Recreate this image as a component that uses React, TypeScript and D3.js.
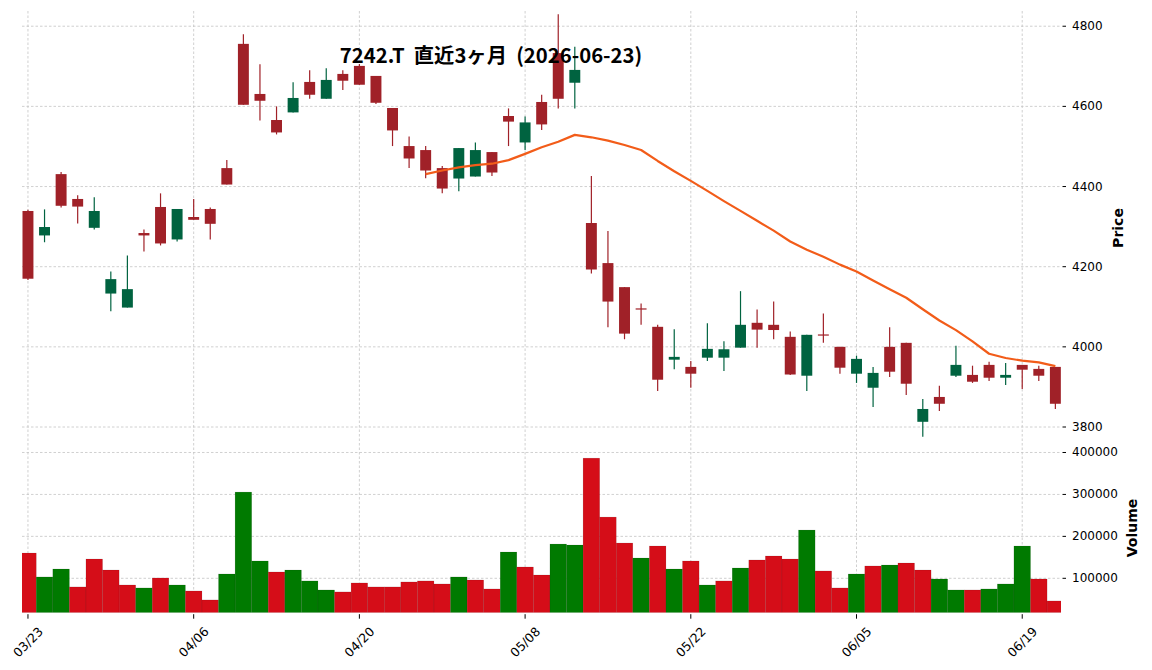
import React from 'react';
import * as d3 from 'd3';

const dates = [
  '2026-03-23', '2026-03-24', '2026-03-25', '2026-03-26', '2026-03-27', '2026-03-30', '2026-03-31',
  '2026-04-01', '2026-04-02', '2026-04-03', '2026-04-06', '2026-04-07', '2026-04-08', '2026-04-09',
  '2026-04-10', '2026-04-13', '2026-04-14', '2026-04-15', '2026-04-16', '2026-04-17', '2026-04-20',
  '2026-04-21', '2026-04-22', '2026-04-23', '2026-04-24', '2026-04-27', '2026-04-28', '2026-04-30',
  '2026-05-01', '2026-05-07', '2026-05-08', '2026-05-11', '2026-05-12', '2026-05-13', '2026-05-14',
  '2026-05-15', '2026-05-18', '2026-05-19', '2026-05-20', '2026-05-21', '2026-05-22', '2026-05-25',
  '2026-05-26', '2026-05-27', '2026-05-28', '2026-05-29', '2026-06-01', '2026-06-02', '2026-06-03',
  '2026-06-04', '2026-06-05', '2026-06-08', '2026-06-09', '2026-06-10', '2026-06-11', '2026-06-12',
  '2026-06-15', '2026-06-16', '2026-06-17', '2026-06-18', '2026-06-19', '2026-06-22', '2026-06-23',
];

const opens = [
  4339, 4278, 4431, 4369, 4297, 4133, 4098, 4284, 4349, 4268,
  4324, 4344, 4446, 4756, 4631, 4566, 4585, 4661, 4619, 4681,
  4701, 4676, 4596, 4501, 4491, 4446, 4420, 4425, 4486, 4576,
  4510, 4611, 4733, 4659, 4309, 4209, 4149, 4096, 4050, 3968,
  3950, 3973, 3973, 3998, 4060, 4055, 4025, 3928, 4031, 4000,
  3933, 3898, 4000, 4010, 3813, 3875, 3928, 3930, 3955, 3923,
  3955, 3945, 3950,
];
const highs = [
  4342, 4343, 4436, 4378, 4373, 4188, 4228, 4293, 4383, 4344,
  4369, 4348, 4466, 4780, 4705, 4600, 4660, 4690, 4695, 4690,
  4706, 4676, 4596, 4525, 4501, 4451, 4496, 4510, 4486, 4595,
  4575, 4629, 4830, 4749, 4426, 4289, 4149, 4108, 4055, 4044,
  3965, 4059, 4014, 4139, 4093, 4113, 4038, 4030, 4083, 4000,
  3978, 3950, 4049, 4010, 3870, 3903, 4003, 3953, 3963, 3960,
  3955, 3953, 3950,
];
const lows = [
  4167, 4261, 4348, 4308, 4293, 4089, 4098, 4238, 4253, 4263,
  4317, 4268, 4405, 4604, 4565, 4530, 4585, 4619, 4619, 4641,
  4654, 4606, 4501, 4446, 4421, 4383, 4388, 4425, 4426, 4501,
  4491, 4541, 4595, 4595, 4183, 4049, 4019, 4055, 3890, 3944,
  3898, 3965, 3940, 3998, 3998, 4019, 3930, 3890, 4010, 3933,
  3910, 3850, 3925, 3880, 3776, 3840, 3925, 3910, 3915, 3905,
  3895, 3915, 3845,
];
const closes = [
  4170, 4299, 4352, 4350, 4339, 4169, 4144, 4278, 4258, 4344,
  4317, 4307, 4405, 4604, 4614, 4535, 4621, 4629, 4666, 4664,
  4654, 4609, 4540, 4470, 4440, 4395, 4496, 4491, 4435, 4562,
  4560, 4555, 4619, 4691, 4193, 4113, 4033, 4093, 3918, 3975,
  3933, 3995, 3994, 4055, 4043, 4042, 3931, 4030, 4029, 3948,
  3970, 3935, 3938, 3908, 3845, 3858, 3955, 3913, 3923, 3930,
  3943, 3928, 3858,
];
const volumes = [
  160300, 103200, 122200, 79400, 146000, 119800, 84100, 77000, 100800, 84100,
  69800, 48400, 110300, 305600, 141300, 115100, 119800, 93700, 72200, 67500,
  88900, 79400, 79400, 91300, 93700, 86500, 103200, 96000, 74600, 162700,
  127000, 107900, 181700, 179400, 386500, 246000, 184100, 148400, 177000, 122200,
  141300, 84100, 93700, 124600, 143700, 153200, 146000, 215100, 117500, 77000,
  110300, 129400, 131700, 136500, 119800, 98400, 72200, 72200, 74600, 86500,
  177000, 98400, 46000,
];

const priceTicks = [3800, 4000, 4200, 4400, 4600, 4800];
const volumeTicks = [100000, 200000, 300000, 400000];
const dateTickStep = 10;
const maPeriod = 25;
const titleText = '7242.T  直近3ヶ月  (2026-06-23)';

const UP = '#006340';
const DOWN = '#A02128';
const VUP = '#007a00';
const VDOWN = '#d50d18';
const MA_COLOR = '#f25c19';
const GRID = '#c4c4c4';

export default function App() {
  const W = 1152;
  const H = 670;
  const L = 22;
  const R = 1061;
  const PT = 11;
  const PB = 442;
  const VT = 442;
  const VB = 612.7;

  const n = dates.length;
  const x = d3.scaleLinear().domain([-0.36, n - 1 + 0.34]).range([L, R]);
  const y = d3.scaleLinear().domain([3762.6, 4838]).range([PB, PT]);
  const yv = d3.scaleLinear().domain([18000, 425000]).range([VB, VT]);
  const unit = x(1) - x(0);
  const bodyW = unit * 0.66;

  const idx = d3.range(n);
  const ma = idx.map((i) =>
    i < maPeriod - 1 ? null : (d3.mean(closes.slice(i - maPeriod + 1, i + 1)) as number)
  );
  const maLine = d3
    .line<number>()
    .defined((i) => ma[i] != null)
    .x((i) => x(i))
    .y((i) => y(ma[i] as number));

  const dateTicks = idx.filter((i) => i % dateTickStep === 0);
  const parse = d3.timeParse('%Y-%m-%d');
  const fmt = d3.timeFormat('%m/%d');

  const tickFont = 'DejaVu Sans';

  return (
    <svg
      width={W}
      height={H}
      style={{ position: 'absolute', left: 0, top: 0, background: '#fff' }}
    >
      <defs>
        <clipPath id="pclip">
          <rect x={L} y={PT} width={R - L} height={PB - PT} />
        </clipPath>
        <clipPath id="vclip">
          <rect x={L} y={VT} width={R - L} height={VB - VT} />
        </clipPath>
      </defs>
      <rect x={0} y={0} width={W} height={H} fill="#fff" />

      <g stroke={GRID} strokeWidth={0.8} strokeDasharray="2.5,2">
        {dateTicks.map((i) => (
          <line key={'vg' + i} x1={x(i)} x2={x(i)} y1={PT} y2={VB} />
        ))}
        {priceTicks.map((t) => (
          <line key={'pg' + t} x1={L} x2={R} y1={y(t)} y2={y(t)} />
        ))}
        {volumeTicks.map((t) => (
          <line key={'vvg' + t} x1={L} x2={R} y1={yv(t)} y2={yv(t)} />
        ))}
      </g>

      <g clipPath="url(#vclip)">
        {idx.map((i) => {
          const up = i === 0 ? closes[0] > opens[0] : closes[i] > closes[i - 1];
          const c = up ? VUP : VDOWN;
          return (
            <rect
              key={'v' + i}
              x={x(i) - unit / 2}
              y={yv(volumes[i])}
              width={unit}
              height={VB - yv(volumes[i])}
              fill={c}
              stroke="rgba(0,0,0,0.18)"
              strokeWidth={0.5}
            />
          );
        })}
      </g>

      <g clipPath="url(#pclip)">
        {idx.map((i) => {
          const up = closes[i] > opens[i];
          const c = up ? UP : DOWN;
          const top = y(Math.max(opens[i], closes[i]));
          const bot = y(Math.min(opens[i], closes[i]));
          return (
            <g key={'c' + i}>
              <line x1={x(i)} x2={x(i)} y1={y(highs[i])} y2={y(lows[i])} stroke={c} strokeWidth={1.2} />
              <rect
                x={x(i) - bodyW / 2}
                y={top}
                width={bodyW}
                height={Math.max(bot - top, 1.2)}
                fill={c}
              />
            </g>
          );
        })}
        <path d={maLine(idx) || ''} fill="none" stroke={MA_COLOR} strokeWidth={2.2} strokeLinejoin="round" />
      </g>

      <g fontFamily={tickFont} fontSize={12} fill="#000">
        {priceTicks.map((t) => (
          <g key={'pt' + t}>
            <line x1={R + 1.5} x2={R + 5} y1={y(t)} y2={y(t)} stroke="#000" strokeWidth={1} />
            <text x={R + 11} y={y(t)} dominantBaseline="central">
              {t}
            </text>
          </g>
        ))}
        {volumeTicks.map((t) => (
          <g key={'vt' + t}>
            <line x1={R + 1.5} x2={R + 5} y1={yv(t)} y2={yv(t)} stroke="#000" strokeWidth={1} />
            <text x={R + 11} y={yv(t)} dominantBaseline="central">
              {t}
            </text>
          </g>
        ))}
        {dateTicks.map((i) => (
          <g key={'dt' + i}>
            <line x1={x(i)} x2={x(i)} y1={VB + 1.5} y2={VB + 6} stroke="#000" strokeWidth={1} />
            <text
              transform={`translate(${x(i)},${642}) rotate(-45)`}
              textAnchor="middle"
              dominantBaseline="central"
              fontSize={12.5}
            >
              {fmt(parse(dates[i]) as Date)}
            </text>
          </g>
        ))}
      </g>

      <text
        transform={`translate(1118,228) rotate(-90)`}
        textAnchor="middle"
        dominantBaseline="central"
        fontFamily={tickFont}
        fontWeight="bold"
        fontSize={14}
      >
        Price
      </text>
      <text
        transform={`translate(1132,528) rotate(-90)`}
        textAnchor="middle"
        dominantBaseline="central"
        fontFamily={tickFont}
        fontWeight="bold"
        fontSize={14}
      >
        Volume
      </text>

      <text
        x={491}
        y={63}
        textAnchor="middle"
        fontFamily="'Noto Sans CJK JP', sans-serif"
        fontWeight="bold"
        fontSize={20.3}
        style={{ whiteSpace: 'pre' }}
      >
        {titleText}
      </text>
    </svg>
  );
}
